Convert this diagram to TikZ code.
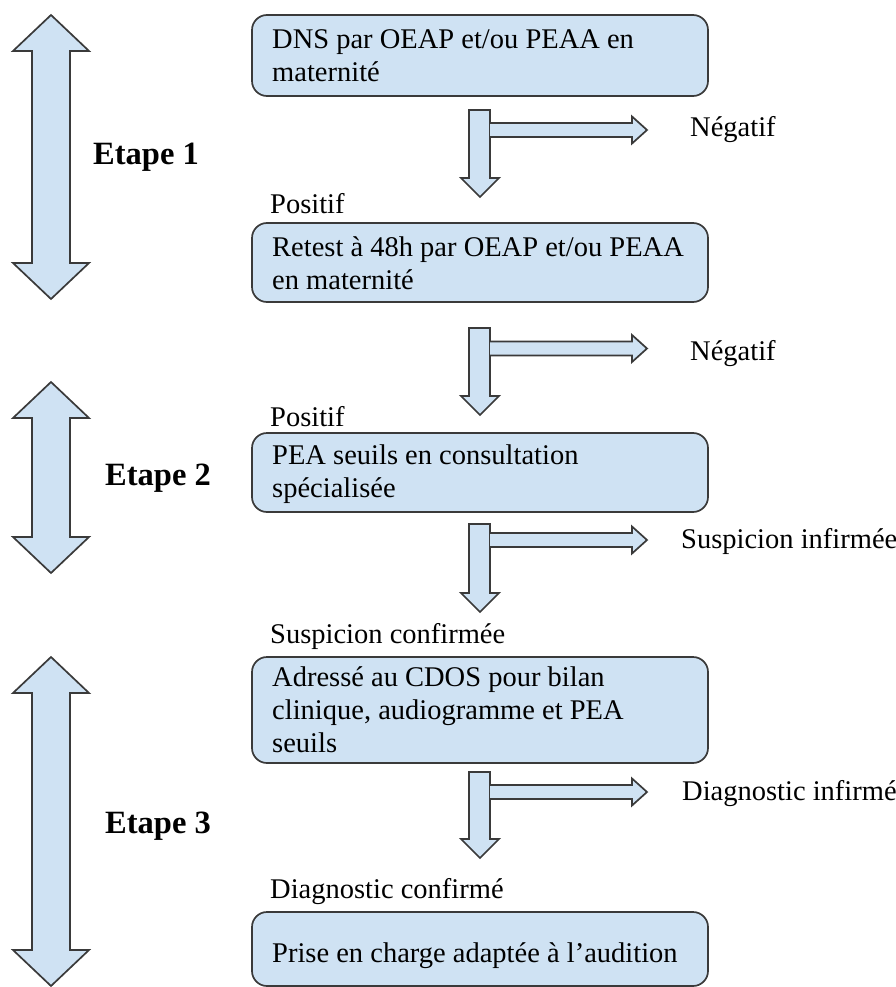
\documentclass[tikz,border=0pt]{standalone}
\usepackage{fontspec}
\setmainfont{Liberation Serif}
\definecolor{boxfill}{HTML}{CFE2F3}
\definecolor{boxline}{HTML}{3A3A3A}
\tikzset{
  shapefill/.style={fill=boxfill, draw=boxline, line width=1.7pt, line join=miter},
  stepbox/.style={shapefill, rectangle, rounded corners=15pt, minimum width=456pt, inner sep=0pt},
  boxtext/.style={font=\fontsize{28.5}{33}\selectfont, align=left, inner sep=0pt, anchor=base west},
  lbl/.style={font=\fontsize{28.5}{33}\selectfont, inner sep=0pt, anchor=base west},
  etape/.style={font=\bfseries\fontsize{32.5}{38}\selectfont, inner sep=0pt, anchor=base west},
}
% vertical+horizontal block arrow: #1 top, #2 tip, #3 horizontal centre
\newcommand{\flowarr}[3]{%
  \draw[shapefill] (469,#1) -- (490,#1) -- (490,#2-19) -- (499,#2-19) -- (480,#2)
     -- (461,#2-19) -- (469,#2-19) -- cycle;
  \draw[shapefill] (490,#3-7) -- (632,#3-7) -- (632,#3-13.5) -- (647,#3)
     -- (632,#3+13.5) -- (632,#3+7) -- (490,#3+7);
}
% double block arrow: #1 top tip, #2 bottom tip
\newcommand{\dblarr}[2]{%
  \draw[shapefill] (51,#1) -- (89,#1+36) -- (70,#1+36) -- (70,#2-36) -- (89,#2-36)
     -- (51,#2) -- (13,#2-36) -- (32,#2-36) -- (32,#1+36) -- (13,#1+36) -- cycle;
}
\begin{document}
\begin{tikzpicture}[x=1pt,y=-1pt]
\useasboundingbox (0,0) rectangle (896,987);

% stage arrows
\dblarr{15}{299}
\dblarr{382}{573}
\dblarr{657}{986}
\node[etape] (e1) at (93,165) {Etape 1};
\node[etape] (e2) at (105,485) {Etape 2};
\node[etape] (e3) at (105,833) {Etape 3};

% boxes
\node[stepbox, minimum height=81pt] (b1) at (480,55.5) {};
\node[stepbox, minimum height=79pt] (b2) at (480,262.5) {};
\node[stepbox, minimum height=79pt] (b3) at (480,472.5) {};
\node[stepbox, minimum height=106pt] (b4) at (480,710) {};
\node[stepbox, minimum height=74pt] (b5) at (480,949) {};

% texts (base = baseline of last line)
\node[boxtext] (t1) at (272,82) {DNS par OEAP et/ou PEAA en\\maternité};
\node[boxtext] (t2) at (272,289) {Retest à 48h par OEAP et/ou PEAA\\en maternité};
\node[boxtext] (t3) at (272,497) {PEA seuils en consultation\\spécialisée};
\node[boxtext] (t4) at (272,752) {Adressé au CDOS pour bilan\\clinique, audiogramme et PEA\\seuils};
\node[boxtext] (t5) at (272,962) {Prise en charge adaptée à l’audition};

% flow arrows
\flowarr{110}{197}{130}
\flowarr{328}{415}{348.5}
\flowarr{524}{612}{540}
\flowarr{772}{858}{792}

% labels
\node[lbl] (p1) at (270,213) {Positif};
\node[lbl] (p2) at (270,426) {Positif};
\node[lbl] (p3) at (270,643) {Suspicion confirmée};
\node[lbl] (p4) at (270,898) {Diagnostic confirmé};
\node[lbl] (n1) at (690,137) {Négatif};
\node[lbl] (n2) at (690,360) {Négatif};
\node[lbl] (n3) at (681,548) {Suspicion infirmée};
\node[lbl] (n4) at (682,800) {Diagnostic infirmé};
\end{tikzpicture}
\end{document}
